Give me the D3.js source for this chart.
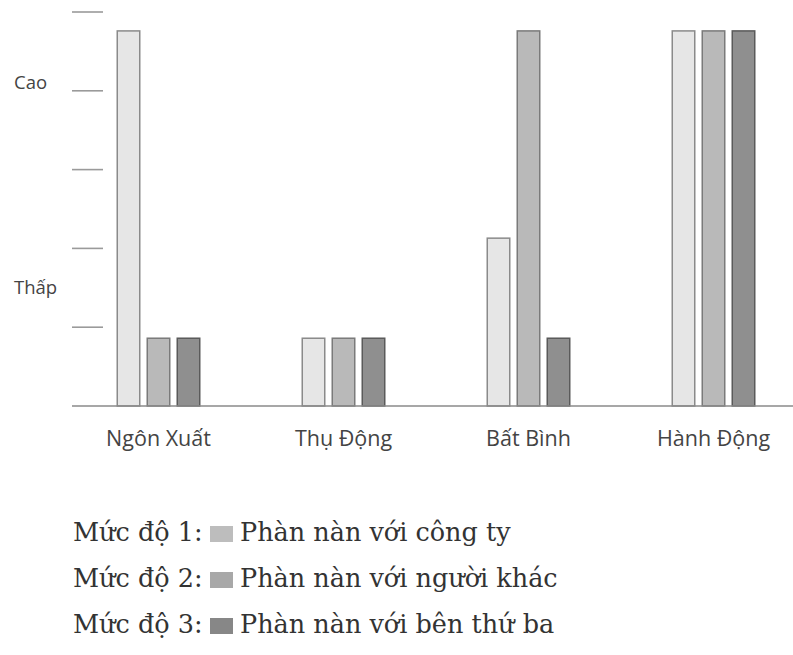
<!DOCTYPE html>
<html>
<head>
<meta charset="utf-8">
<script src="https://cdn.jsdelivr.net/npm/d3@7"></script>
<style>
  body { margin: 0; background: #fff; }
  svg { display: block; }
</style>
</head>
<body>
<svg id="chart" width="793" height="655"></svg>
<script>
// ---- data ----
const categories = ["Ngôn Xuất", "Thụ Động", "Bất Bình", "Hành Động"];
const seriesNames = ["Mức độ 1", "Mức độ 2", "Mức độ 3"];
const level1 = [4.76, 0.86, 2.13, 4.76];
const level2 = [0.86, 0.86, 4.76, 4.76];
const level3 = [0.86, 0.86, 0.86, 4.76];
const tickValues = [1, 2, 3, 4, 5];
const levelLabels = ["Cao", "Thấp"];
const levelLabelValues = [4.1, 1.5];
const legendPrefixes = ["Mức độ 1:", "Mức độ 2:", "Mức độ 3:"];
const legendTexts = ["Phàn nàn với công ty", "Phàn nàn với người khác", "Phàn nàn với bên thứ ba"];

const barFills = ["#e6e6e6", "#b9b9b9", "#8f8f8f"];
const barStrokes = ["#8a8a8a", "#7a7a7a", "#5a5a5a"];
const legendFills = ["#bdbdbd", "#a8a8a8", "#878787"];

const seriesValues = [level1, level2, level3];
const rows = categories.map((c, i) => ({ cat: c, vals: seriesValues.map(s => s[i]) }));

const svg = d3.select("#chart");

const y = d3.scaleLinear().domain([0, 5]).range([406, 12]);
const x = d3.scaleBand().domain(categories).range([66, 806]).paddingInner(0).paddingOuter(0);
const xs = d3.scaleBand().domain(d3.range(3)).range([0, 84]).paddingInner(0.2).paddingOuter(0);

// y ticks (short horizontal lines)
svg.append("g").selectAll("line").data(tickValues).join("line")
  .attr("x1", 72).attr("x2", 103)
  .attr("y1", d => y(d)).attr("y2", d => y(d))
  .attr("stroke", "#9a9a9a").attr("stroke-width", 1.6);

// level labels
svg.append("g").selectAll("text").data(levelLabels).join("text")
  .attr("x", 14).attr("y", (d, i) => y(levelLabelValues[i]))
  .attr("dy", "0.35em")
  .attr("font-family", "'Open Sans', sans-serif")
  .attr("font-size", 18.5).attr("fill", "#444")
  .text(d => d);

// bars
const groups = svg.append("g").selectAll("g").data(rows).join("g")
  .attr("transform", d => `translate(${x(d.cat) + x.bandwidth() / 2 - 42},0)`);

groups.selectAll("rect").data(d => d.vals.map((v, i) => ({ v, i }))).join("rect")
  .attr("x", d => xs(d.i) + 0.75)
  .attr("width", xs.bandwidth() - 1.5)
  .attr("y", d => y(d.v))
  .attr("height", d => y(0) - y(d.v))
  .attr("fill", d => barFills[d.i])
  .attr("stroke", d => barStrokes[d.i])
  .attr("stroke-width", 1.5);

// baseline
svg.append("line")
  .attr("x1", 72).attr("x2", 793)
  .attr("y1", y(0)).attr("y2", y(0))
  .attr("stroke", "#8a8a8a").attr("stroke-width", 1.6);

// category labels
svg.append("g").selectAll("text").data(categories).join("text")
  .attr("x", d => x(d) + x.bandwidth() / 2)
  .attr("y", 446)
  .attr("text-anchor", "middle")
  .attr("font-family", "'Open Sans', sans-serif")
  .attr("font-size", 21.5).attr("fill", "#444")
  .text(d => d);

// legend
const leg = svg.append("g").selectAll("g").data(seriesNames).join("g")
  .attr("transform", (d, i) => `translate(0,${541 + i * 46})`);
leg.append("text")
  .attr("x", 73).attr("y", 0)
  .attr("font-family", "'DejaVu Serif', serif")
  .attr("font-size", 25.5).attr("fill", "#333")
  .text((d, i) => legendPrefixes[i]);
leg.append("rect")
  .attr("x", 210).attr("y", -15).attr("width", 23).attr("height", 16)
  .attr("fill", (d, i) => legendFills[i]);
leg.append("text")
  .attr("x", 240).attr("y", 0)
  .attr("font-family", "'DejaVu Serif', serif")
  .attr("font-size", 25.5).attr("fill", "#333")
  .text((d, i) => legendTexts[i]);
</script>
</body>
</html>
